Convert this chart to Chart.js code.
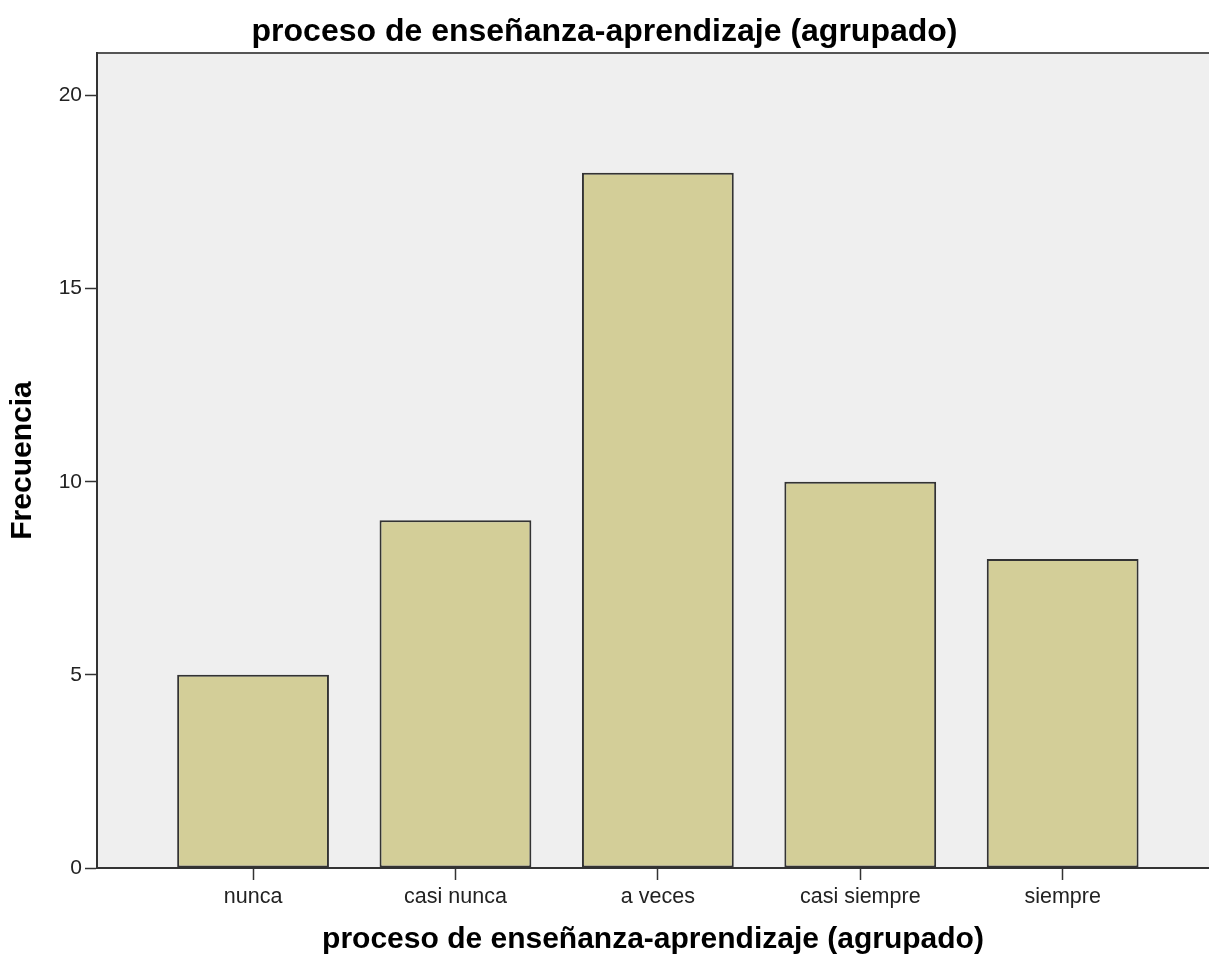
<!DOCTYPE html>
<html>
<head>
<meta charset="utf-8">
<script src="https://cdn.jsdelivr.net/npm/chart.js@4"></script>
<style>
  html, body { margin: 0; padding: 0; background: #fff; }
  #wrap { width: 1209px; height: 958px; }
</style>
</head>
<body>
<div id="wrap"><canvas id="freq-chart"></canvas></div>
<script>
// categories and counts
var categories = ["nunca", "casi nunca", "a veces", "casi siempre", "siempre"];
var counts = [5, 9, 18, 10, 8];
var yTicks = [0, 5, 10, 15, 20];

var chartTitle = "proceso de enseñanza-aprendizaje (agrupado)";
var xTitle = "proceso de enseñanza-aprendizaje (agrupado)";
var yTitle = "Frecuencia";

// plot background + top border
var plotFrame = {
  id: "plotFrame",
  beforeDraw: function (chart) {
    var a = chart.chartArea;
    var c = chart.ctx;
    c.save();
    c.fillStyle = "#efefef";
    c.fillRect(a.left, a.top, a.right - a.left, a.bottom - a.top);
    c.strokeStyle = "#555";
    c.lineWidth = 2;
    c.beginPath();
    c.moveTo(a.left, a.top);
    c.lineTo(a.right, a.top);
    c.stroke();
    c.restore();
  },
};

var font = "Liberation Sans, Arial, sans-serif";

var ctx = document.getElementById("freq-chart").getContext("2d");
var chart = new Chart(ctx, {
  type: "bar",
  data: {
    labels: categories,
    datasets: [
      {
        label: yTitle,
        data: counts.map(function (v, i) { return { x: i + 1, y: v }; }),
        backgroundColor: "#d3ce98",
        borderColor: "#333",
        borderWidth: 2,
        borderSkipped: false,
        categoryPercentage: 1,
        barPercentage: 0.75,
      },
    ],
  },
  options: {
    responsive: true,
    maintainAspectRatio: false,
    animation: false,
    layout: { padding: 0 },
    plugins: {
      legend: { display: false },
      tooltip: { enabled: false },
      title: {
        display: true,
        text: chartTitle,
        color: "#000",
        font: { family: font, size: 32, weight: "bold" },
        padding: { top: 13, bottom: 1.6 },
      },
    },
    scales: {
      x: {
        type: "linear",
        offset: false,
        min: 0.229,
        max: 5.723,
        afterBuildTicks: function (s) {
          s.ticks = categories.map(function (c, i) { return { value: i + 1 }; });
        },
        afterFit: function (s) { s.height = 90; },
        ticks: {
          color: "#222",
          font: { family: font, size: 21.5 },
          padding: 4,
          maxRotation: 0,
          autoSkip: false,
          callback: function (v) { return categories[v - 1]; },
        },
        title: {
          display: true,
          text: xTitle,
          color: "#000",
          font: { family: font, size: 30, weight: "bold" },
          padding: { top: 0, bottom: 0 },
        },
        grid: { offset: false, drawOnChartArea: false, drawTicks: true, tickLength: 12, tickColor: "#333", tickWidth: 1.5 },
        border: { display: true, color: "#333", width: 2 },
      },
      y: {
        min: 0,
        max: 21.1,
        afterBuildTicks: function (s) {
          s.ticks = yTicks.map(function (v) { return { value: v }; });
        },
        afterFit: function (s) { s.width = 97; },
        ticks: {
          color: "#222",
          font: { family: font, size: 21 },
          padding: 3,
        },
        title: {
          display: true,
          text: yTitle,
          color: "#000",
          font: { family: font, size: 30, weight: "bold" },
          padding: { top: 5, bottom: 0 },
        },
        grid: { drawOnChartArea: false, drawTicks: true, tickLength: 12, tickColor: "#333", tickWidth: 1.5 },
        border: { display: true, color: "#333", width: 2 },
      },
    },
  },
  plugins: [plotFrame],
});
</script>
</body>
</html>
